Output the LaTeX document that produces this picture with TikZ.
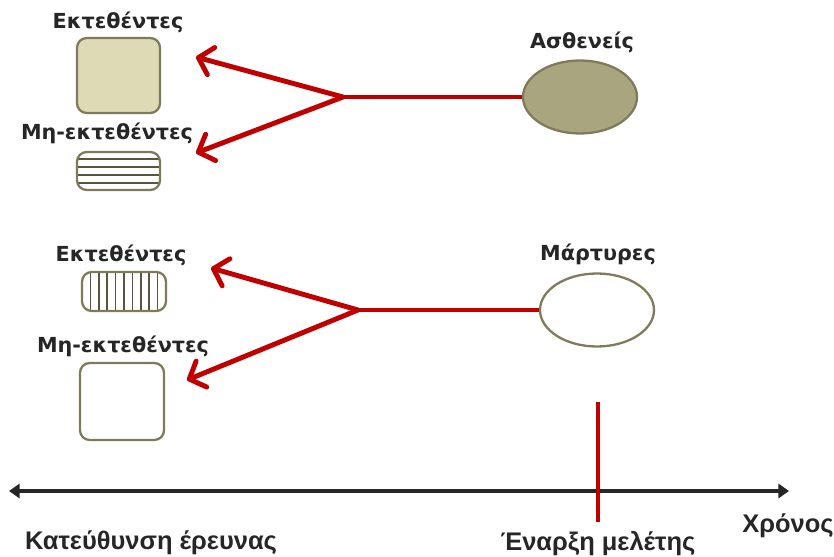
\documentclass[tikz,border=0pt]{standalone}
\usepackage{fontspec}
\setmainfont{DejaVu Sans}
\newfontfamily\axisfont{Liberation Sans}
\usetikzlibrary{arrows.meta,shapes.geometric,calc}
\definecolor{redline}{HTML}{C00000}
\definecolor{boxedge}{HTML}{7F7A5C}
\definecolor{lightkhaki}{HTML}{DEDAB6}
\definecolor{darkkhaki}{HTML}{A9A57F}
\definecolor{textdark}{HTML}{262626}
\tikzset{
  lbl/.style={font=\bfseries\fontsize{11.8}{13}\selectfont, text=textdark, inner sep=1pt},
  axislbl/.style={font=\axisfont\bfseries\fontsize{14.5}{16}\selectfont, text=textdark, inner sep=1pt},
  group/.style={draw=boxedge, line width=1.3pt, rounded corners=5.5pt},
  oval/.style={ellipse, draw=boxedge, line width=1.3pt, minimum width=2.28cm, minimum height=1.46cm},
  stripe/.style={draw=boxedge!70!black, line width=0.9pt},
  hstripes/.style={path picture={
    \foreach \f in {0.184,0.395,0.605,0.816}
      \draw[stripe] ($(path picture bounding box.north west)!\f!(path picture bounding box.south west)$)
        -- ($(path picture bounding box.north east)!\f!(path picture bounding box.south east)$);}},
  vstripes/.style={path picture={
    \foreach \f in {0.1,0.2,...,0.95}
      \draw[stripe] ($(path picture bounding box.north west)!\f!(path picture bounding box.north east)$)
        -- ($(path picture bounding box.south west)!\f!(path picture bounding box.south east)$);}},
  redarrow/.style={redline, line width=2.8pt, -{Straight Barb[length=7.5pt,width=16pt,round]}},
}
\begin{document}
\begin{tikzpicture}[x=0.02cm,y=-0.02cm]
\fill[white] (0,0) rectangle (834,557);
\useasboundingbox (0,0) rectangle (834,557);
% cases
\node[oval, fill=darkkhaki] (cases) at (580,97) {};
\node[lbl] (caseslbl) at (582,42) {Ασθενείς};
\node[group, fill=lightkhaki, minimum width=1.66cm, minimum height=1.5cm] (expA) at (118.5,75.5) {};
\node[lbl] (expAlbl) at (118,22) {Εκτεθέντες};
\node[group, hstripes, fill=white, minimum width=1.66cm, minimum height=0.76cm] (unexpA) at (118.5,171) {};
\node[lbl] (unexpAlbl) at (107,133) {Μη-εκτεθέντες};
\coordinate (forkA) at (343,97);
\coordinate (tipA1) at (196,57);
\coordinate (tipA2) at (196,153);
\draw[redline, line width=2.8pt] (cases.west) -- (forkA);
\draw[redarrow] (forkA) -- (tipA1);
\draw[redarrow] (forkA) -- (tipA2);
% controls
\node[oval, fill=white] (controls) at (597,310) {};
\node[lbl] (controlslbl) at (598,254) {Μάρτυρες};
\node[group, vstripes, fill=white, minimum width=1.68cm, minimum height=0.78cm] (expB) at (124,291.5) {};
\node[lbl] (expBlbl) at (121,255) {Εκτεθέντες};
\node[group, fill=white, minimum width=1.68cm, minimum height=1.54cm] (unexpB) at (122,401.5) {};
\node[lbl] (unexpBlbl) at (123,346) {Μη-εκτεθέντες};
\coordinate (forkB) at (358,310);
\coordinate (tipB1) at (211,268);
\coordinate (tipB2) at (187,380);
\draw[redline, line width=2.8pt] (controls.west) -- (forkB);
\draw[redarrow] (forkB) -- (tipB1);
\draw[redarrow] (forkB) -- (tipB2);
% time axis
\coordinate (axisL) at (9,491);
\coordinate (axisR) at (789,491);
\draw[textdark, line width=2.2pt, {Triangle[length=6pt,width=8pt]}-{Triangle[length=6pt,width=8pt]}] (axisL) -- (axisR);
\coordinate (startT) at (598,402);
\coordinate (startB) at (598,522);
\draw[redline, line width=1.8pt] (startT) -- (startB);
\node[axislbl] (dirlbl) at (151,543) {Κατεύθυνση έρευνας};
\node[axislbl] (startlbl) at (598,544) {Έναρξη μελέτης};
\node[axislbl] (timelbl) at (788,526) {Χρόνος};
\end{tikzpicture}
\end{document}
